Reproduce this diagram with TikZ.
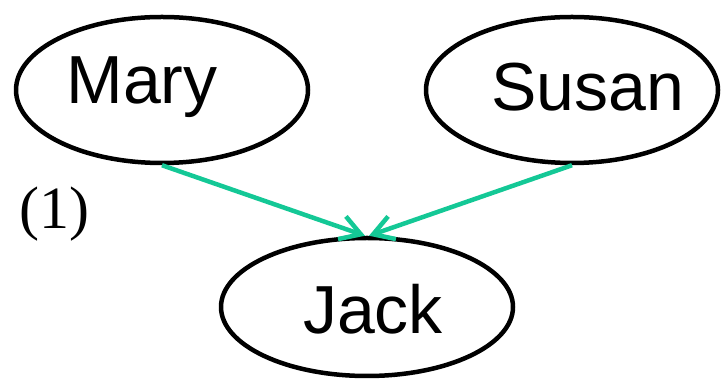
\documentclass[tikz,border=0pt]{standalone}
\usepackage{fontspec}
\setmainfont{Liberation Serif}
\newfontfamily\namefont{Liberation Sans}
\usetikzlibrary{arrows.meta}
\usetikzlibrary{shapes}
\definecolor{linkgreen}{RGB}{20,200,150}

\begin{document}
\begin{tikzpicture}[x=1pt,y=1pt,
				person/.style={ellipse,draw,line width=4.5pt,line cap=round,line join=round,
					minimum width=292pt,minimum height=146pt,inner sep=0pt},
				nametext/.style={font=\namefont\fontsize{68}{68}\selectfont,inner sep=0pt},
				link/.style={draw=linkgreen,line width=4.5pt,-{Straight Barb[length=20pt,width=24pt,line width=4.5pt]}}]
				\useasboundingbox (0,0) rectangle (722,382);
				
				\node[person,label={[nametext,xshift=-20pt,yshift=3pt]center:Mary}] (mary) at (162,292) {};
				\node[person,label={[nametext,xshift=16pt,yshift=3pt]center:Susan}] (susan) at (572,292) {};
				\node[person,minimum height=138pt,label={[nametext,xshift=6pt,yshift=-2pt]center:Jack}] (jack) at (367,75) {};
				
				\node[font=\fontsize{60}{60}\selectfont] (tag) at (54,168) {(1)};
				
				\draw[link] (mary.south) -- ([xshift=-2pt]jack.north);
				\draw[link] (susan.south) -- ([xshift=2pt]jack.north);
			\end{tikzpicture}
\end{document}
